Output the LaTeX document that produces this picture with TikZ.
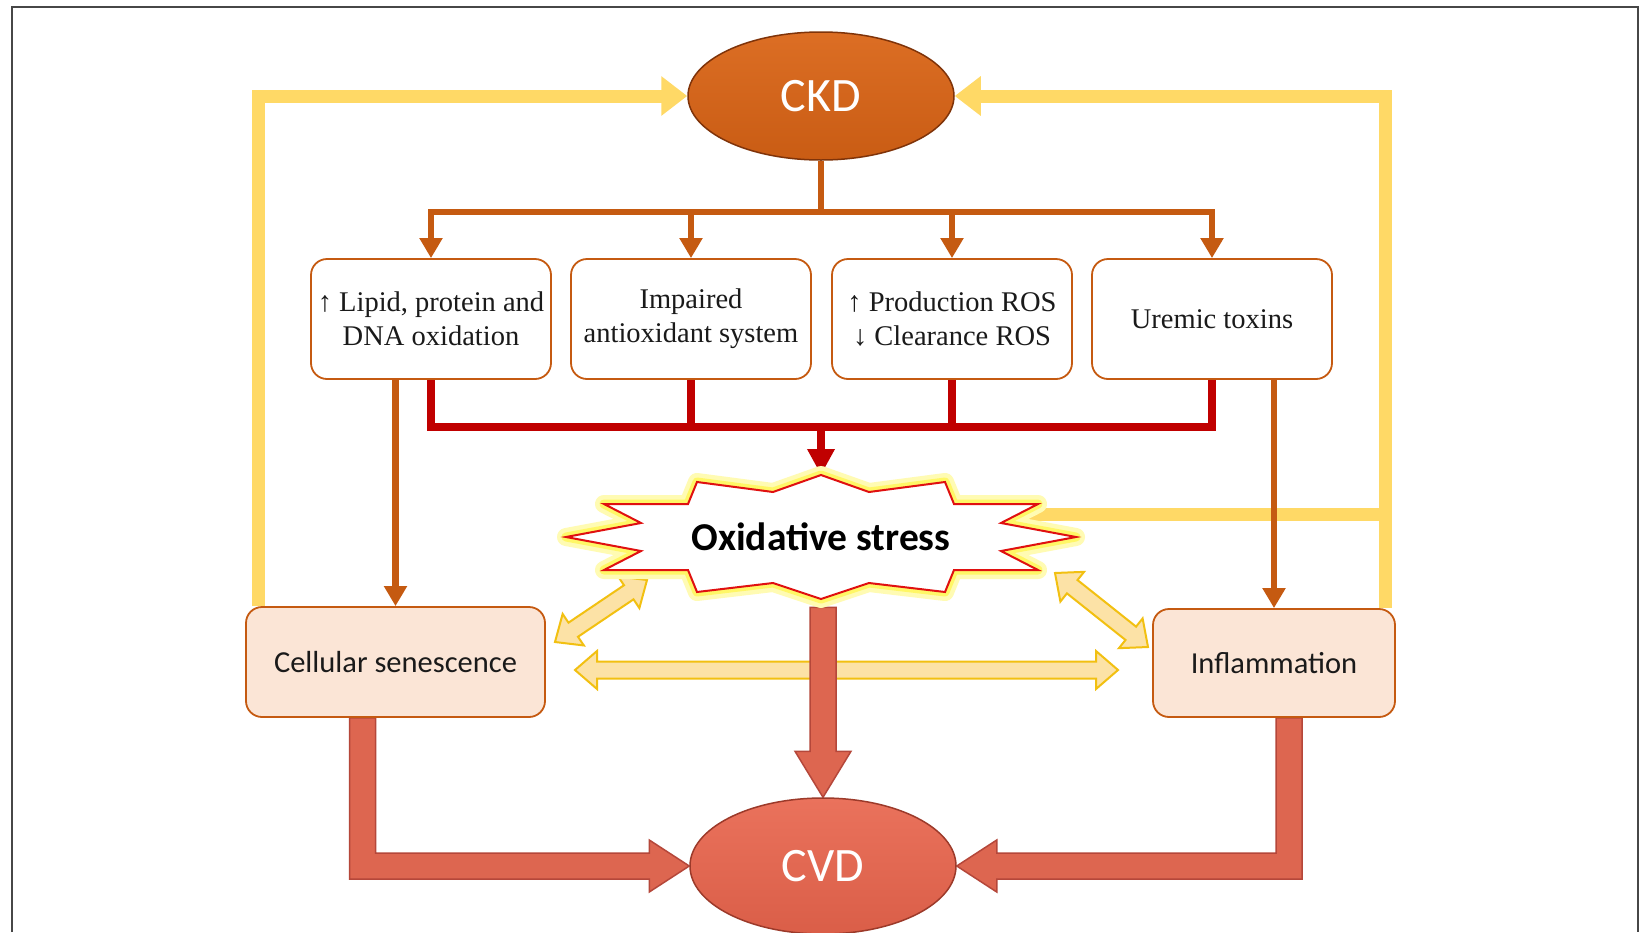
\documentclass[tikz,border=0pt]{standalone}
\usepackage{fontspec}
\setmainfont{Liberation Serif}
\newfontfamily\calfont{Carlito}
\usetikzlibrary{arrows.meta,calc,shapes.geometric}
\pgfdeclarelayer{bg}
\pgfsetlayers{bg,main}
\definecolor{orng}{HTML}{C55A11}
\definecolor{ckdtop}{HTML}{DC6E24}
\definecolor{ckdbot}{HTML}{C95C14}
\definecolor{ckdedge}{HTML}{7F3309}
\definecolor{cvdtop}{HTML}{EA725C}
\definecolor{cvdbot}{HTML}{DA5E48}
\definecolor{cvdedge}{HTML}{9C3A2A}
\definecolor{redl}{HTML}{C00000}
\definecolor{yel}{HTML}{FFD966}
\definecolor{yfill}{HTML}{FCE2A6}
\definecolor{yedge}{HTML}{F2C011}
\definecolor{peach}{HTML}{FBE5D6}
\definecolor{rfill}{HTML}{DD6650}
\definecolor{redge}{HTML}{B5473A}
\definecolor{txt}{HTML}{1A1A1A}
\definecolor{burstred}{HTML}{E01010}
\newcommand\dblblock[2]{%
  \coordinate (hA) at ($(#1)!22pt!(#2)$);
  \coordinate (hB) at ($(#2)!22pt!(#1)$);
  \path[yblock] (#1) -- ($(hA)!19pt!90:(#2)$) -- ($(hA)!8.5pt!90:(#2)$)
    -- ($(hB)!8.5pt!-90:(#1)$) -- ($(hB)!19pt!-90:(#1)$) -- (#2)
    -- ($(hB)!19pt!90:(#1)$) -- ($(hB)!8.5pt!90:(#1)$)
    -- ($(hA)!8.5pt!-90:(#2)$) -- ($(hA)!19pt!-90:(#2)$) -- cycle;}
\begin{document}
\begin{tikzpicture}[x=1pt,y=-1pt,
  box/.style={draw=orng, line width=1.8pt, fill=white, rounded corners=16pt,
    minimum width=240pt, minimum height=120pt, align=center, inner sep=2pt,
    text=txt, font=\fontsize{28.5}{34}\selectfont},
  pbox/.style={box, fill=peach, font=\calfont\fontsize{30.5}{36}\selectfont},
  oval/.style={ellipse, draw=ckdedge, line width=1.5pt, minimum width=266pt,
    minimum height=128pt, inner sep=0pt, text=white,
    font=\calfont\fontsize{48}{56}\selectfont},
  oline/.style={draw=orng, line width=6.5pt},
  oarrow/.style={oline, -{Triangle[width=22pt,length=20pt]}},
  rline/.style={draw=redl, line width=8pt},
  yline/.style={draw=yel, line width=13pt, line join=miter,
    -{Triangle[width=38pt,length=26pt]}},
  yblock/.style={fill=yfill, draw=yedge, line width=2pt, line join=miter},
  rblock/.style={fill=rfill, draw=redge, line width=1.5pt, line join=miter},
]
\useasboundingbox (0,0) rectangle (1647,932);

% nodes
\node[oval, top color=ckdtop, bottom color=ckdbot] (ckd) at (821,96) {CKD};
\node[oval, draw=cvdedge, top color=cvdtop, bottom color=cvdbot,
  minimum height=136pt] (cvd) at (823,866) {CVD};
\node[box] (b1) at (431,319) {↑ Lipid, protein and\\DNA oxidation};
\node[box] (b2) at (691,319) {Impaired\\antioxidant system};
\node[box] (b3) at (952,319) {↑ Production ROS\\↓ Clearance ROS};
\node[box] (b4) at (1212,319) {Uremic toxins};
\node[pbox, minimum width=299pt, minimum height=110pt] (cs) at (395.5,662) {Cellular senescence};
\node[pbox, minimum width=242pt, minimum height=108pt] (inf) at (1274,663) {Inflammation};

% starburst
\begin{scope}[shift={(821,537)}]
  \draw[yellow!30, line width=18pt, line join=round]
    (0,-62) -- (48,-45) -- (124,-55) -- (133,-33) -- (217,-33) -- (180,-14) -- (255,0)
    -- (180,14) -- (217,33) -- (133,33) -- (124,55) -- (48,46) -- (0,62)
    -- (-48,46) -- (-124,55) -- (-133,33) -- (-217,33) -- (-180,14) -- (-255,0)
    -- (-180,-14) -- (-217,-33) -- (-133,-33) -- (-124,-55) -- (-48,-45) -- cycle;
  \draw[yellow!60, line width=9pt, line join=round]
    (0,-62) -- (48,-45) -- (124,-55) -- (133,-33) -- (217,-33) -- (180,-14) -- (255,0)
    -- (180,14) -- (217,33) -- (133,33) -- (124,55) -- (48,46) -- (0,62)
    -- (-48,46) -- (-124,55) -- (-133,33) -- (-217,33) -- (-180,14) -- (-255,0)
    -- (-180,-14) -- (-217,-33) -- (-133,-33) -- (-124,-55) -- (-48,-45) -- cycle;
  \draw[burstred, fill=white, line width=2pt, line join=miter]
    (0,-62) -- (48,-45) -- (124,-55) -- (133,-33) -- (217,-33) -- (180,-14) -- (255,0)
    -- (180,14) -- (217,33) -- (133,33) -- (124,55) -- (48,46) -- (0,62)
    -- (-48,46) -- (-124,55) -- (-133,33) -- (-217,33) -- (-180,14) -- (-255,0)
    -- (-180,-14) -- (-217,-33) -- (-133,-33) -- (-124,-55) -- (-48,-45) -- cycle;
\end{scope}
\node[font=\calfont\bfseries\fontsize{39.5}{46}\selectfont, text=black] (os) at (821,537) {Oxidative stress};
\coordinate (ost) at (821,475);
\coordinate (osr) at (1022,514);

\begin{pgfonlayer}{bg}
  \fill[white] (0,0) rectangle (1647,932);
  \draw[line width=2pt, black!72] (12,932) -- (12,7) -- (1638,7) -- (1638,932);

  % yellow feedback lines
  \coordinate (yl) at ($(cs.north west)+(13,0)$);
  \coordinate (yr) at ($(inf.north east)+(-10,0)$);
  \draw[yline] (yl) |- (ckd.west);
  \draw[yline] (yr) |- (ckd.east);
  \draw[yline, -] (osr) -- (osr -| yr);

  % orange tree
  \coordinate (bar) at (821,212);
  \draw[oline] (ckd.south) -- (bar);
  \draw[oline, line cap=rect] (b1.north |- bar) -- (b4.north |- bar);
  \foreach \b in {b1,b2,b3,b4} \draw[oarrow] (\b.north |- bar) -- (\b.north);
  \draw[oarrow] (b1.south -| cs.north) -- (cs.north);
  \draw[oarrow] (b4.south -| inf.north) -- (inf.north);

  % red tree
  \coordinate (rb) at (821,427);
  \draw[rline, line join=miter] (b1.south) -- (b1.south |- rb) -- (b4.south |- rb) -- (b4.south);
  \draw[rline] (b2.south) -- (b2.south |- rb);
  \draw[rline] (b3.south) -- (b3.south |- rb);
  \draw[rline, -{Triangle[width=26pt,length=26pt]}] (rb) -- (ost);

  % yellow double block arrows
  \coordinate (d1a) at (555,642); \coordinate (d1b) at (647,580);
  \coordinate (d2a) at (1055,573); \coordinate (d2b) at (1148,647);
  \coordinate (d3a) at (575,670); \coordinate (d3b) at (1118,670);
  \dblblock{d1a}{d1b}
  \dblblock{d2a}{d2b}
  \dblblock{d3a}{d3b}

  % red block arrows
  \path[rblock] ($(cvd.north)+(-13,-190)$) -- ($(cvd.north)+(13,-190)$)
    -- ($(cvd.north)+(13,-46)$) -- ($(cvd.north)+(28,-46)$) -- (cvd.north)
    -- ($(cvd.north)+(-28,-46)$) -- ($(cvd.north)+(-13,-46)$) -- cycle;
  \coordinate (lL) at ($(cs.south)+(-33,0)$);
  \path[rblock] ($(lL)+(-13,0)$) -- ($(lL)+(13,0)$) -- ($(lL|-cvd.west)+(13,-13)$)
    -- ($(cvd.west)+(-40,-13)$) -- ($(cvd.west)+(-40,-26)$) -- (cvd.west)
    -- ($(cvd.west)+(-40,26)$) -- ($(cvd.west)+(-40,13)$)
    -- ($(lL|-cvd.west)+(-13,13)$) -- cycle;
  \coordinate (rL) at ($(inf.south)+(15,0)$);
  \path[rblock] ($(rL)+(13,0)$) -- ($(rL)+(-13,0)$) -- ($(rL|-cvd.east)+(-13,-13)$)
    -- ($(cvd.east)+(40,-13)$) -- ($(cvd.east)+(40,-26)$) -- (cvd.east)
    -- ($(cvd.east)+(40,26)$) -- ($(cvd.east)+(40,13)$)
    -- ($(rL|-cvd.east)+(13,13)$) -- cycle;
\end{pgfonlayer}
\end{tikzpicture}
\end{document}
